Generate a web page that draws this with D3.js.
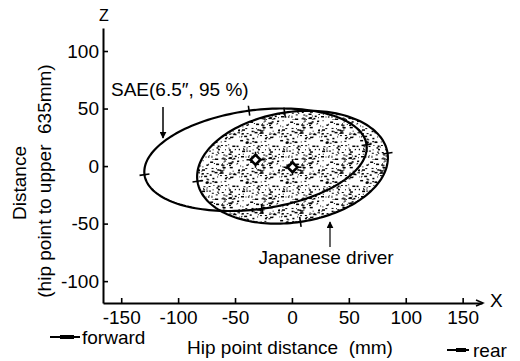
<!DOCTYPE html>
<html>
<head>
<meta charset="utf-8">
<script src="https://cdn.jsdelivr.net/npm/d3@7"></script>
<style>
  body { margin: 0; background: #fff; }
  text { font-family: "Liberation Sans", Arial, sans-serif; fill: #000; }
</style>
</head>
<body>
<svg id="chart" width="520" height="361"></svg>
<script>
// values (mm)
const xTicks = [-150, -100, -50, 0, 50, 100, 150]
const zTicks = [-100, -50, 0, 50, 100]
const ellipseNames = ["SAE", "Japanese"]
const centersX = [-32, 0.5]
const centersZ = [5.5, -1]
const semiMajor = [98.4, 84.4]
const semiMinor = [43, 48]
const tiltDeg = [7.6, 8.3]

const width = 520
const height = 361
const margin = {top: 28, right: 38, bottom: 58, left: 103}

const svg = d3.select("#chart")

const x = d3.scaleLinear().domain([-166, 167]).range([margin.left, width - margin.right])
const y = d3.scaleLinear().domain([-119, 120]).range([height - margin.bottom, margin.top])

// stipple texture for the japanese driver region
const defs = svg.append("defs")
const pat = defs.append("pattern")
  .attr("id", "stip")
  .attr("patternUnits", "userSpaceOnUse")
  .attr("width", 40).attr("height", 40)
let seed = 12345
const rnd = () => { seed = (seed * 16807) % 2147483647; return seed / 2147483647 }
for (let i = 0; i < 150; i++) {
  const big = rnd() < 0.3
  pat.append("rect")
    .attr("x", rnd() * 40).attr("y", rnd() * 40)
    .attr("width", big ? 2 + Math.floor(rnd() * 2) : 1 + Math.floor(rnd() * 2))
    .attr("height", big ? 1.5 : 1)
    .attr("fill", "#000")
}

defs.append("marker")
  .attr("id", "arrow")
  .attr("viewBox", "0 0 10 10")
  .attr("refX", 9).attr("refY", 5)
  .attr("markerWidth", 7).attr("markerHeight", 7)
  .attr("markerUnits", "userSpaceOnUse")
  .attr("orient", "auto")
  .append("path").attr("d", "M0,0L10,5L0,10Z").attr("fill", "#000")

const ellipsePoints = (i) => {
  const th = tiltDeg[i] * Math.PI / 180
  return d3.range(0, 2 * Math.PI, Math.PI / 90).map(t => [
    centersX[i] + semiMajor[i] * Math.cos(t) * Math.cos(th) - semiMinor[i] * Math.sin(t) * Math.sin(th),
    centersZ[i] + semiMajor[i] * Math.cos(t) * Math.sin(th) + semiMinor[i] * Math.sin(t) * Math.cos(th)
  ])
}

const line = d3.line()
  .x(d => x(d[0]))
  .y(d => y(d[1]))
  .curve(d3.curveLinearClosed)

// japanese first (filled), sae drawn over it
const order = [1, 0]
svg.selectAll("path.ell")
  .data(order)
  .enter()
  .append("path")
  .attr("class", "ell")
  .attr("d", i => line(ellipsePoints(i)))
  .attr("fill", i => ellipseNames[i] === "Japanese" ? "url(#stip)" : "none")
  .attr("stroke", "#000")
  .attr("stroke-width", 2.2)

// small cross ticks at the axis ends of each ellipse
order.forEach(i => {
  const th = tiltDeg[i] * Math.PI / 180
  const ends = [
    [semiMajor[i], 0, Math.cos(th), Math.sin(th)],
    [-semiMajor[i], 0, Math.cos(th), Math.sin(th)],
    [0, semiMinor[i], -Math.sin(th), Math.cos(th)],
    [0, -semiMinor[i], -Math.sin(th), Math.cos(th)]
  ]
  ends.forEach(([u, v, dx, dz]) => {
    const px = x(centersX[i] + u * Math.cos(th) - v * Math.sin(th))
    const py = y(centersZ[i] + u * Math.sin(th) + v * Math.cos(th))
    svg.append("line")
      .attr("x1", px - dx * 5).attr("y1", py + dz * 5)
      .attr("x2", px + dx * 5).attr("y2", py - dz * 5)
      .attr("stroke", "#000").attr("stroke-width", 1.6)
  })
  const cx = x(centersX[i]), cy = y(centersZ[i])
  svg.append("path")
    .attr("d", `M${cx - 9},${cy}H${cx + 9}M${cx},${cy - 8}V${cy + 8}`)
    .attr("stroke", "#000").attr("stroke-width", 1.5)
  svg.append("path")
    .attr("d", `M${cx - 5},${cy}L${cx},${cy - 5}L${cx + 5},${cy}L${cx},${cy + 5}Z`)
    .attr("fill", "#fff").attr("stroke", "#000").attr("stroke-width", 2.6)
})

// axes (plain hyphen minus like the original)
const fmt = d => String(d)
const gx = svg.append("g")
  .attr("transform", `translate(0,${y.range()[0]})`)
  .call(d3.axisBottom(x).tickValues(xTicks).tickFormat(fmt).tickSizeInner(-5).tickSizeOuter(0).tickPadding(8))
const gy = svg.append("g")
  .attr("transform", `translate(${x.range()[0]},0)`)
  .call(d3.axisLeft(y).tickValues(zTicks).tickFormat(fmt).tickSizeInner(-5).tickSizeOuter(0).tickPadding(4))

;[gx, gy].forEach(g => {
  g.attr("font-family", null).attr("font-size", null)
  g.selectAll("text").style("font-size", "19px").attr("fill", "#000")
  g.selectAll("line").attr("stroke-width", 1.6)
  g.select(".domain").attr("stroke-width", 2)
})

svg.append("path")
  .attr("d", `M${x.range()[1] - 6},${y.range()[0] - 3}L${x.range()[1] + 1},${y.range()[0]}L${x.range()[1] - 6},${y.range()[0] + 3}`)
  .attr("fill", "none").attr("stroke", "#000").attr("stroke-width", 1.5)

svg.append("text").attr("x", 490).attr("y", 307).style("font-size", "19px").text("X")
svg.append("text").attr("x", 104).attr("y", 21).attr("text-anchor", "middle").style("font-size", "16px").text("Z")

// titles
svg.append("text")
  .attr("x", 290).attr("y", 354)
  .attr("text-anchor", "middle")
  .style("font-size", "19px")
  .style("white-space", "pre")
  .text("Hip point distance  (mm)")

svg.append("text")
  .attr("transform", "translate(26,183) rotate(-90)")
  .attr("text-anchor", "middle")
  .style("font-size", "19px")
  .text("Distance")
svg.append("text")
  .attr("transform", "translate(51,181) rotate(-90)")
  .attr("text-anchor", "middle")
  .style("font-size", "19px")
  .style("white-space", "pre")
  .text("(hip point to upper  635mm)")

// annotations
svg.append("text").attr("x", 111).attr("y", 96).style("font-size", "19px").text("SAE(6.5\u2033, 95 %)")
svg.append("line")
  .attr("x1", 163).attr("y1", 107).attr("x2", 163).attr("y2", 138)
  .attr("stroke", "#000").attr("stroke-width", 1.5).attr("marker-end", "url(#arrow)")

svg.append("text").attr("x", 326).attr("y", 264).attr("text-anchor", "middle").style("font-size", "19px").text("Japanese driver")
svg.append("line")
  .attr("x1", 330).attr("y1", 247).attr("x2", 330).attr("y2", 222)
  .attr("stroke", "#000").attr("stroke-width", 1.2).attr("marker-end", "url(#arrow)")

// direction legend
svg.append("line").attr("x1", 50).attr("y1", 337).attr("x2", 80).attr("y2", 337).attr("stroke", "#000").attr("stroke-width", 2)
svg.append("rect").attr("x", 60).attr("y", 335).attr("width", 14).attr("height", 4).attr("fill", "#000")
svg.append("text").attr("x", 82).attr("y", 344).style("font-size", "19px").text("forward")

svg.append("line").attr("x1", 447).attr("y1", 350).attr("x2", 469).attr("y2", 350).attr("stroke", "#000").attr("stroke-width", 2)
svg.append("rect").attr("x", 456).attr("y", 348).attr("width", 10).attr("height", 4).attr("fill", "#000")
svg.append("text").attr("x", 473).attr("y", 357).style("font-size", "19px").text("rear")
</script>
</body>
</html>
